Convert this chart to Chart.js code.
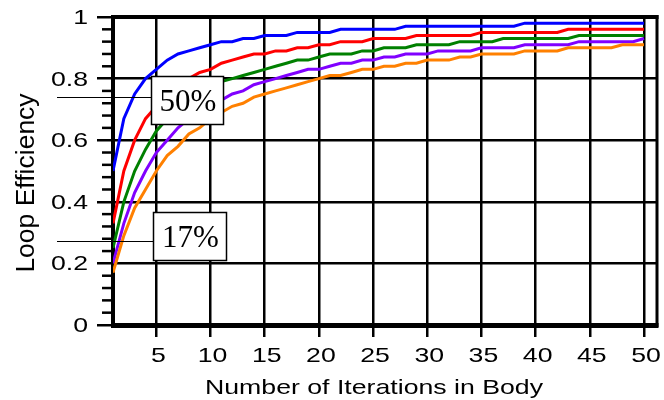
<!DOCTYPE html>
<html>
<head>
<meta charset="utf-8">
<script src="https://cdn.jsdelivr.net/npm/chart.js@4.4.1/dist/chart.umd.min.js"></script>
<style>
  html, body { margin: 0; padding: 0; background: #ffffff; }
  #wrap { width: 664px; height: 400px; }
</style>
</head>
<body>
<div id="wrap"><canvas id="c" width="664" height="400"></canvas></div>
<script>
// Number of iterations in the loop body
const iterations = [1,2,3,4,5,6,7,8,9,10,11,12,13,14,15,16,17,18,19,20,21,22,23,24,25,
  26,27,28,29,30,31,32,33,34,35,36,37,38,39,40,41,42,43,44,45,46,47,48,49,50];

// Loop efficiency curves, one per overhead level
const effBlue = [0.50,0.67,0.75,0.80,0.83,0.86,0.88,0.89,0.90,0.91,
  0.92,0.92,0.93,0.93,0.94,0.94,0.94,0.95,0.95,0.95,
  0.95,0.96,0.96,0.96,0.96,0.96,0.96,0.97,0.97,0.97,
  0.97,0.97,0.97,0.97,0.97,0.97,0.97,0.97,0.98,0.98,
  0.98,0.98,0.98,0.98,0.98,0.98,0.98,0.98,0.98,0.98];
const effRed = [0.33,0.50,0.60,0.67,0.71,0.75,0.78,0.80,0.82,0.83,
  0.85,0.86,0.87,0.88,0.88,0.89,0.89,0.90,0.90,0.91,
  0.91,0.92,0.92,0.92,0.93,0.93,0.93,0.93,0.94,0.94,
  0.94,0.94,0.94,0.94,0.95,0.95,0.95,0.95,0.95,0.95,
  0.95,0.95,0.96,0.96,0.96,0.96,0.96,0.96,0.96,0.96];
const effGreen = [0.25,0.40,0.50,0.57,0.63,0.67,0.70,0.73,0.75,0.77,
  0.79,0.80,0.81,0.82,0.83,0.84,0.85,0.86,0.86,0.87,
  0.88,0.88,0.88,0.89,0.89,0.90,0.90,0.90,0.91,0.91,
  0.91,0.91,0.92,0.92,0.92,0.92,0.93,0.93,0.93,0.93,
  0.93,0.93,0.93,0.94,0.94,0.94,0.94,0.94,0.94,0.94];
const effPurple = [0.20,0.33,0.43,0.50,0.56,0.60,0.64,0.67,0.69,0.71,
  0.73,0.75,0.76,0.78,0.79,0.80,0.81,0.82,0.83,0.83,
  0.84,0.85,0.85,0.86,0.86,0.87,0.87,0.88,0.88,0.88,
  0.89,0.89,0.89,0.89,0.90,0.90,0.90,0.90,0.91,0.91,
  0.91,0.91,0.91,0.92,0.92,0.92,0.92,0.92,0.92,0.93];
const effOrange = [0.17,0.29,0.38,0.44,0.50,0.55,0.58,0.62,0.64,0.67,
  0.69,0.71,0.72,0.74,0.75,0.76,0.77,0.78,0.79,0.80,
  0.81,0.81,0.82,0.83,0.83,0.84,0.84,0.85,0.85,0.86,
  0.86,0.86,0.87,0.87,0.88,0.88,0.88,0.88,0.89,0.89,
  0.89,0.89,0.90,0.90,0.90,0.90,0.90,0.91,0.91,0.91];

// Axis ticks
const xTickValues = [5,10,15,20,25,30,35,40,45,50];
const yTickValues = [0,0.2,0.4,0.6,0.8,1];
const yTickLabels = ['0','0.2','0.4','0.6','0.8','1'];
const yMinorStep = 0.04;

// Callout labels and the efficiency level each one points at
const calloutTexts = ['50%','17%'];
const calloutValues = [0.74,0.273];

const xTitle = 'Number of Iterations in Body';
const yTitle = 'Loop Efficiency';

const SANS = '"Liberation Sans", Arial, sans-serif';
const SERIF = '"Liberation Serif", "Times New Roman", serif';
const STRETCH = 1.27;

function series(values) {
  return iterations.map((n, i) => ({ x: n, y: values[i] }));
}

function lineSet(values, color) {
  return {
    data: series(values),
    borderColor: color,
    borderWidth: 3,
    pointRadius: 0,
    tension: 0,
    fill: false
  };
}

function stretchedText(ctx, text, x, y, align, sx) {
  ctx.save();
  ctx.translate(x, y);
  ctx.scale(sx, 1);
  ctx.textAlign = align;
  ctx.textBaseline = 'alphabetic';
  ctx.fillText(text, 0, 0);
  ctx.restore();
}

// Frame, minor ticks, tick labels and axis titles
const axisDecor = {
  id: 'axisDecor',
  beforeDatasetsDraw(chart) {
    const { ctx, chartArea: a } = chart;
    const ys = chart.scales.y;
    ctx.save();
    ctx.strokeStyle = '#000';
    ctx.lineCap = 'butt';
    // minor ticks on the efficiency axis
    ctx.lineWidth = 2.5;
    for (let k = 0; k <= Math.round(1 / yMinorStep); k++) {
      if (k % 5 === 0) continue;
      const py = ys.getPixelForValue(k * yMinorStep);
      ctx.beginPath();
      ctx.moveTo(a.left - 11, py);
      ctx.lineTo(a.left, py);
      ctx.stroke();
    }
    // top and right edges of the frame
    ctx.lineWidth = 4;
    ctx.beginPath();
    ctx.moveTo(a.left, a.top);
    ctx.lineTo(a.right + 1.5, a.top);
    ctx.stroke();
    ctx.lineWidth = 3;
    ctx.beginPath();
    ctx.moveTo(a.right, a.top - 2);
    ctx.lineTo(a.right, a.bottom + 2);
    ctx.stroke();
    ctx.restore();
  },
  afterDraw(chart) {
    const { ctx, chartArea: a } = chart;
    const xs = chart.scales.x, ys = chart.scales.y;
    ctx.save();
    ctx.fillStyle = '#000';
    ctx.font = '21px ' + SANS;
    yTickValues.forEach((v, i) => {
      stretchedText(ctx, yTickLabels[i], a.left - 25, ys.getPixelForValue(v) + 7, 'right', STRETCH);
    });
    xTickValues.forEach(v => {
      stretchedText(ctx, String(v), xs.getPixelForValue(v) + 2, 362, 'center', STRETCH);
    });
    // x title
    const w = ctx.measureText(xTitle).width;
    stretchedText(ctx, xTitle, 374, 394, 'center', 338 / w);
    // y title
    ctx.font = '26.5px ' + SANS;
    ctx.translate(34, (a.top + a.bottom) / 2 + 12);
    ctx.rotate(-Math.PI / 2);
    ctx.textAlign = 'center';
    ctx.textBaseline = 'alphabetic';
    ctx.fillText(yTitle, 0, 0);
    ctx.restore();
  }
};

// Boxed callouts with leader lines from the left margin
const callouts = {
  id: 'callouts',
  afterDatasetsDraw(chart) {
    const { ctx } = chart;
    const ys = chart.scales.y;
    const boxes = [
      { left: 151, top: 76, w: 72, h: 48 },
      { left: 153, top: 212, w: 73, h: 48 }
    ];
    ctx.save();
    calloutTexts.forEach((t, i) => {
      const b = boxes[i];
      const py = Math.round(ys.getPixelForValue(calloutValues[i])) + 0.5;
      ctx.strokeStyle = '#000';
      ctx.lineWidth = 1.2;
      ctx.beginPath();
      ctx.moveTo(57, py);
      ctx.lineTo(b.left, py);
      ctx.stroke();
      ctx.fillStyle = '#fff';
      ctx.fillRect(b.left, b.top, b.w, b.h);
      ctx.lineWidth = 1.5;
      ctx.strokeRect(b.left + 0.5, b.top + 0.5, b.w, b.h);
      ctx.fillStyle = '#000';
      ctx.font = '31px ' + SERIF;
      ctx.textAlign = 'center';
      ctx.textBaseline = 'alphabetic';
      ctx.fillText(t, b.left + b.w / 2 + 1, b.top + b.h / 2 + 11);
    });
    ctx.restore();
  }
};

new Chart(document.getElementById('c'), {
  type: 'line',
  data: {
    datasets: [
      lineSet(effOrange, '#ff8000'),
      lineSet(effPurple, '#8000ff'),
      lineSet(effGreen, '#008000'),
      lineSet(effRed, '#ff0000'),
      lineSet(effBlue, '#0000ff')
    ]
  },
  options: {
    responsive: false,
    devicePixelRatio: 1,
    animation: false,
    layout: { padding: { top: 17, right: 7, left: 0, bottom: 0 } },
    plugins: { legend: { display: false }, tooltip: { enabled: false } },
    scales: {
      x: {
        type: 'linear',
        min: 1,
        max: 51.2,
        afterBuildTicks: s => { s.ticks = xTickValues.map(v => ({ value: v })); },
        afterFit: s => { s.height = 75; },
        ticks: { display: false },
        grid: { color: '#000', lineWidth: 2.5, drawTicks: true, tickLength: 12, tickWidth: 2.5 },
        border: { display: true, color: '#000', width: 5 }
      },
      y: {
        type: 'linear',
        min: 0,
        max: 1,
        afterBuildTicks: s => { s.ticks = yTickValues.map(v => ({ value: v })); },
        afterFit: s => { s.width = 113; },
        ticks: { display: false },
        grid: { color: '#000', lineWidth: 2.5, drawTicks: true, tickLength: 16, tickWidth: 2.5 },
        border: { display: true, color: '#000', width: 4 }
      }
    }
  },
  plugins: [axisDecor, callouts]
});
</script>
</body>
</html>
